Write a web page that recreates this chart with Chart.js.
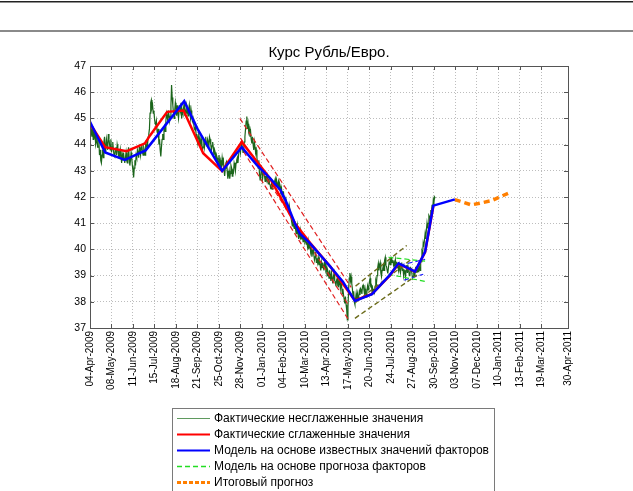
<!DOCTYPE html>
<html>
<head>
<meta charset="utf-8">
<script src="https://cdn.jsdelivr.net/npm/chart.js@4.4.1/dist/chart.umd.min.js"></script>
<style>
  html, body { margin: 0; padding: 0; background: #fff; }
  #wrap { position: relative; width: 633px; height: 491px; }
</style>
</head>
<body>
<div id="wrap"><canvas id="myChart" width="633" height="491"></canvas></div>
<script>
const FONT = '"Liberation Sans", Arial, sans-serif'

// x axis is counted in days from 04-Apr-2009
var tickDays = [0, 34, 68, 102, 136, 170, 204, 238, 272, 306, 340, 374, 408, 442, 476, 510, 544, 578, 612, 646, 680, 714, 756];
var tickLabels = ["04-Apr-2009", "08-May-2009", "11-Jun-2009", "15-Jul-2009", "18-Aug-2009", "21-Sep-2009",
    "25-Oct-2009", "28-Nov-2009", "01-Jan-2010", "04-Feb-2010", "10-Mar-2010", "13-Apr-2010", "17-May-2010",
    "20-Jun-2010", "24-Jul-2010", "27-Aug-2010", "30-Sep-2010", "03-Nov-2010", "07-Dec-2010", "10-Jan-2011",
    "13-Feb-2011", "19-Mar-2011", "30-Apr-2011"];
var yTicks = [37, 38, 39, 40, 41, 42, 43, 44, 45, 46, 47];

var legendLabels = [
    "Фактические несглаженные значения",
    "Фактические сглаженные значения",
    "Модель на основе известных значений факторов",
    "Модель на основе прогноза факторов",
    "Итоговый прогноз"
];

// actual rate, one value per day starting at day 0 (04-Apr-2009)
var rawValues = [
    44.4, 44.8, 44.5, 44.3, 44.7, 44.2, 44.6, 44.3, 44.4, 44.0, 44.1, 44.4, 43.9, 43.9, 44.2, 43.6, 43.8, 43.4, 43.3, 43.6,
    43.8, 43.5, 44.1, 44.3, 43.7, 43.9, 44.2, 44.0, 43.8, 44.4, 44.2, 44.0, 43.8, 44.2, 43.7, 43.9, 44.1, 43.8, 43.6, 43.55,
    43.8, 43.9, 43.6, 44.0, 43.85, 43.6, 43.7, 43.5, 43.8, 43.6, 43.3, 43.6, 43.4, 43.7, 43.45, 43.3, 43.5, 43.7, 43.4, 43.3,
    43.6, 43.9, 43.5, 43.2, 43.4, 43.7, 43.5, 43.2, 43.0, 42.75, 43.1, 43.4, 43.2, 43.6, 43.5, 43.8, 43.7, 43.5, 43.9, 43.8,
    43.6, 43.9, 44.0, 43.7, 43.6, 43.9, 43.8, 43.6, 44.0, 43.9, 44.2, 44.0, 44.3, 44.4, 44.6, 45.2, 45.6, 45.7, 45.4, 45.5,
    45.2, 45.3, 45.0, 44.8, 44.75, 44.9, 44.5, 44.4, 44.6, 44.0, 44.2, 43.8, 43.55, 43.9, 44.2, 44.4, 44.2, 44.6, 44.7, 44.5,
    44.9, 45.2, 45.1, 44.9, 45.3, 45.1, 44.9, 45.0, 45.5, 46.27, 45.8, 45.5, 45.2, 45.0, 45.3, 45.6, 45.4, 45.1, 45.5, 45.2,
    45.0, 45.3, 45.5, 45.3, 45.6, 45.0, 45.3, 45.2, 45.4, 45.6, 45.1, 45.3, 45.2, 45.5, 45.4, 45.1, 45.3, 45.5, 45.2, 45.0,
    45.3, 45.1, 44.9, 45.0, 44.8, 44.6, 44.56, 44.7, 44.3, 44.4, 44.1, 44.3, 44.5, 44.0, 44.18, 43.9, 44.2, 44.0, 43.8, 43.9,
    44.2, 43.9, 44.1, 44.3, 44.0, 43.95, 44.2, 44.1, 43.9, 44.3, 44.2, 44.0, 43.8, 43.95, 44.1, 43.9, 43.6, 43.8, 43.7, 43.4,
    43.6, 43.5, 43.2, 43.35, 43.6, 43.3, 43.4, 43.0, 43.2, 43.5, 43.3, 43.4, 43.0, 42.8, 43.1, 43.3, 43.35, 43.0, 42.7, 42.84,
    43.0, 42.7, 42.9, 43.2, 43.1, 42.8, 43.0, 42.95, 43.3, 43.2, 43.0, 43.3, 43.41, 43.5, 43.3, 43.6, 43.8, 43.9, 43.7, 44.0,
    44.05, 43.9, 43.7, 43.8, 44.1, 44.3, 44.6, 44.9, 45.07, 44.6, 44.8, 44.5, 44.6, 44.3, 44.5, 44.2, 44.05, 44.3, 44.0, 43.8,
    44.1, 43.9, 43.7, 43.8, 43.5, 43.3, 43.1, 43.4, 42.9, 42.65, 42.8, 43.1, 43.0, 42.7, 42.9, 43.0, 42.8, 42.6, 42.8, 42.65,
    42.8, 42.6, 42.5, 42.7, 42.5, 42.45, 42.3, 42.5, 42.3, 42.5, 42.4, 42.55, 42.6, 42.7, 42.5, 42.65, 42.4, 42.5, 42.6, 42.3,
    42.5, 42.4, 42.1, 42.3, 42.0, 42.2, 42.2, 41.9, 42.0, 41.7, 41.9, 41.9, 41.6, 41.7, 41.5, 41.7, 41.7, 41.4, 41.2, 41.2,
    40.9, 41.1, 40.9, 40.8, 41.0, 40.8, 40.6, 40.7, 40.9, 40.6, 40.4, 40.6, 40.5, 40.7, 40.4, 40.6, 40.5, 40.3, 40.42, 40.5,
    40.3, 40.4, 40.2, 40.3, 40.1, 40.3, 40.0, 40.2, 40.17, 39.9, 40.0, 39.72, 39.9, 39.98, 39.8, 39.6, 39.72, 39.9, 39.5, 39.66,
    39.5, 39.7, 39.4, 39.6, 39.4, 39.2, 39.5, 39.3, 39.5, 39.34, 39.2, 39.5, 39.47, 39.2, 39.28, 39.0, 39.2, 39.1, 38.9, 39.2,
    39.02, 38.8, 39.1, 38.9, 38.7, 38.96, 39.1, 38.8, 38.77, 38.6, 38.83, 38.9, 38.6, 38.58, 38.8, 38.77, 38.5, 38.7, 38.58, 38.3,
    38.5, 38.26, 38.1, 37.94, 38.2, 37.9, 37.69, 37.31, 37.8, 38.45, 38.9, 39.1, 38.8, 38.96, 38.7, 38.5, 38.2, 38.4, 38.0, 37.9,
    38.1, 38.32, 38.1, 38.3, 38.07, 38.2, 38.4, 38.26, 38.5, 38.45, 38.3, 38.6, 38.64, 38.5, 38.32, 38.5, 38.3, 38.19, 38.4, 38.6,
    38.45, 38.6, 38.77, 38.9, 38.6, 38.64, 38.4, 38.5, 38.32, 38.5, 38.38, 38.6, 38.8, 38.7, 39.0, 39.3, 39.46, 39.2, 39.4, 39.5,
    39.1, 38.96, 39.2, 39.27, 39.4, 39.2, 39.59, 39.7, 39.4, 39.34, 39.2, 39.08, 39.3, 39.5, 39.46, 39.6, 39.4, 39.72, 39.5, 39.59,
    39.4, 39.5, 39.34, 39.6, 39.4, 39.53, 39.3, 39.4, 39.2, 39.4, 39.21, 39.1, 39.34, 39.5, 39.2, 39.27, 39.0, 39.2, 39.15, 38.95,
    39.21, 39.4, 39.1, 39.34, 39.2, 39.0, 39.02, 39.3, 39.27, 39.1, 38.9, 38.96, 39.2, 39.0, 39.15, 39.3, 39.27, 39.1, 39.3, 39.15,
    39.4, 39.34, 39.2, 39.5, 39.53, 39.9, 39.8, 40.23, 40.1, 40.36, 40.6, 40.4, 40.74, 41.0, 40.8, 40.99, 41.3, 41.25, 41.1, 41.5,
    41.37, 41.7, 41.5, 41.9, 41.8, 42.0, 41.95
];
var rawStartDay = 0;

// smoothed actual
var smoothDays = [0, 24, 58, 87, 95, 122, 148, 179, 209, 240, 256, 285, 324, 348, 380, 419, 446, 474, 488, 514, 530, 543];
var smoothValues = [44.8, 43.9, 43.75, 44.05, 44.35, 45.25, 45.3, 43.67, 42.99, 44.1, 43.6, 42.7, 41.0, 40.25, 39.35, 38.05, 38.3, 39.0, 39.45, 39.15, 39.9, 41.65];

// model on known factor values
var modelDays = [0, 24, 55, 88, 149, 170, 209, 240, 264, 285, 301, 309, 324, 332, 348, 380, 400, 419, 446, 474, 488, 514, 530, 543, 577];
var modelValues = [44.87, 43.7, 43.42, 43.78, 45.66, 44.6, 43.0, 43.9, 43.22, 42.71, 42.27, 41.89, 41.0, 40.6, 40.23, 39.34, 38.77, 38.03, 38.29, 39.02, 39.47, 39.15, 39.91, 41.67, 41.91];

// model on forecast factors (two bounds)
var factorUpDays = [472, 530];
var factorUpValues = [39.7, 39.55];
var factorLowDays = [472, 530];
var factorLowValues = [39.05, 38.78];

// final forecast
var forecastDays = [577, 590, 603, 614, 635, 648, 667];
var forecastValues = [41.9, 41.8, 41.7, 41.75, 41.86, 42.0, 42.2];

// trend corridors
var redUpDays = [237, 413], redUpValues = [45.0, 38.55];
var redMidDays = [238, 409], redMidValues = [44.25, 37.87];
var redLowDays = [243, 409], redLowValues = [43.73, 37.31];
var oliveUpDays = [420, 501], oliveUpValues = [38.6, 40.15];
var oliveMidDays = [420, 507], oliveMidValues = [37.98, 39.6];
var oliveLowDays = [419, 517], oliveLowValues = [37.37, 39.02];
var blueUpDays = [490, 530], blueUpValues = [39.4, 39.62];
var blueLowDays = [497, 527], blueLowValues = [38.83, 39.05];

function pts(days, vals) {
    return days.map((d, i) => ({ x: d, y: vals[i] }))
}

function corridor(days, vals, color, width) {
    return { data: pts(days, vals), borderColor: color, borderWidth: width || 1.2, borderDash: [5, 3], order: 4 }
}

var rawPoints = rawValues.map((v, i) => ({ x: rawStartDay + i, y: v }))

var datasets = [
    { label: legendLabels[0], data: rawPoints, borderColor: '#1b651b', borderWidth: 1.2, order: 6, legendColor: '#5f9a5f' },
    { label: legendLabels[1], data: pts(smoothDays, smoothValues), borderColor: '#ff0000', borderWidth: 2.5, order: 3 },
    { label: legendLabels[2], data: pts(modelDays, modelValues), borderColor: '#0000ff', borderWidth: 2.5, order: 1 },
    { label: legendLabels[3], data: pts(factorUpDays, factorUpValues), borderColor: '#22dd22', borderWidth: 1.2, borderDash: [5, 3], order: 4, legendWidth: 1.5 },
    { label: legendLabels[4], data: pts(forecastDays, forecastValues), borderColor: '#ff7f00', borderWidth: 3.5, borderDash: [6, 4], order: 1, legendWidth: 3, legendDash: [4, 2] },
    corridor(factorLowDays, factorLowValues, '#22dd22'),
    corridor(redUpDays, redUpValues, '#e02020'),
    corridor(redMidDays, redMidValues, '#e02020'),
    corridor(redLowDays, redLowValues, '#e02020'),
    corridor(oliveUpDays, oliveUpValues, '#6b6b1a', 1.4),
    corridor(oliveMidDays, oliveMidValues, '#6b6b1a', 1.4),
    corridor(oliveLowDays, oliveLowValues, '#6b6b1a', 1.4),
    corridor(blueUpDays, blueUpValues, '#2020ff'),
    corridor(blueLowDays, blueLowValues, '#2020ff')
];

const pagePlugin = {
    id: 'page',
    beforeDraw(chart) {
        const ctx = chart.ctx
        ctx.save()
        ctx.fillStyle = '#fff'
        ctx.fillRect(0, 0, chart.width, chart.height)
        ctx.fillStyle = '#222'
        ctx.fillRect(0, 1, chart.width, 1.5)
        ctx.fillStyle = '#8a8a8a'
        ctx.fillRect(0, 30, chart.width, 2)
        ctx.restore()
    },
    afterDatasetsDraw(chart) {
        const ctx = chart.ctx
        const a = chart.chartArea
        const xs = chart.scales.x
        const ys = chart.scales.y
        ctx.save()
        ctx.strokeStyle = '#555'
        ctx.lineWidth = 1
        ctx.strokeRect(Math.round(a.left) + 0.5, Math.round(a.top) + 0.5, Math.round(a.right - a.left), Math.round(a.bottom - a.top))
        ctx.beginPath()
        tickDays.forEach(d => {
            const x = Math.round(xs.getPixelForValue(d)) + 0.5
            ctx.moveTo(x, a.bottom); ctx.lineTo(x, a.bottom - 4)
            ctx.moveTo(x, a.top); ctx.lineTo(x, a.top + 4)
        })
        yTicks.forEach(v => {
            const y = Math.round(ys.getPixelForValue(v)) + 0.5
            ctx.moveTo(a.left, y); ctx.lineTo(a.left + 4, y)
            ctx.moveTo(a.right, y); ctx.lineTo(a.right - 4, y)
        })
        ctx.stroke()
        ctx.restore()
    },
    afterDraw(chart) {
        const ctx = chart.ctx
        const a = chart.chartArea
        ctx.save()
        // title
        ctx.fillStyle = '#000'
        ctx.font = '15px ' + FONT
        ctx.textAlign = 'center'
        ctx.textBaseline = 'middle'
        ctx.fillText('Курс Рубль/Евро.', (a.left + a.right) / 2, 53)
        // legend box
        const items = chart.data.datasets.filter(d => d.label)
        ctx.fillStyle = '#fff'
        ctx.fillRect(172.5, 408.5, 322, 90)
        ctx.strokeStyle = '#7a7a7a'
        ctx.lineWidth = 1
        ctx.strokeRect(172.5, 408.5, 322, 90)
        ctx.font = '12px ' + FONT
        ctx.textAlign = 'left'
        items.forEach((d, i) => {
            const y = Math.round(417.5 + i * 16.1) + 0.5
            ctx.strokeStyle = d.legendColor || d.borderColor
            ctx.lineWidth = d.legendWidth || Math.min(d.borderWidth, 2)
            ctx.setLineDash(d.legendDash || d.borderDash || [])
            ctx.beginPath(); ctx.moveTo(177, y); ctx.lineTo(210, y); ctx.stroke()
            ctx.setLineDash([])
            ctx.fillStyle = '#000'
            ctx.fillText(d.label, 214, y)
        })
        ctx.restore()
    }
}

new Chart("myChart", {
    type: "line",
    data: { datasets: datasets },
    options: {
        responsive: false,
        animation: false,
        layout: { padding: { top: 66, right: 65, left: 0, bottom: 0 } },
        elements: { point: { radius: 0 }, line: { tension: 0, fill: false } },
        plugins: { legend: { display: false }, tooltip: { enabled: false }, title: { display: false } },
        scales: {
            x: {
                type: 'linear', min: 0, max: 756,
                afterBuildTicks: s => { s.ticks = tickDays.map(v => ({ value: v })) },
                afterFit: s => { s.height = 163 },
                ticks: {
                    autoSkip: false, maxRotation: 90, minRotation: 90, padding: 3,
                    color: '#000', font: { family: FONT, size: 10 },
                    callback: (v, i) => tickLabels[i]
                },
                grid: { color: '#bdbdbd', drawTicks: false },
                border: { color: '#555', dash: [1, 2] }
            },
            y: {
                min: 37, max: 47,
                afterBuildTicks: s => { s.ticks = yTicks.map(v => ({ value: v })) },
                afterFit: s => { s.width = 90 },
                ticks: { padding: 4, color: '#000', font: { family: FONT, size: 10.5 } },
                grid: { color: '#bdbdbd', drawTicks: false },
                border: { color: '#555', dash: [1, 2] }
            }
        }
    },
    plugins: [pagePlugin]
});
</script>
</body>
</html>
